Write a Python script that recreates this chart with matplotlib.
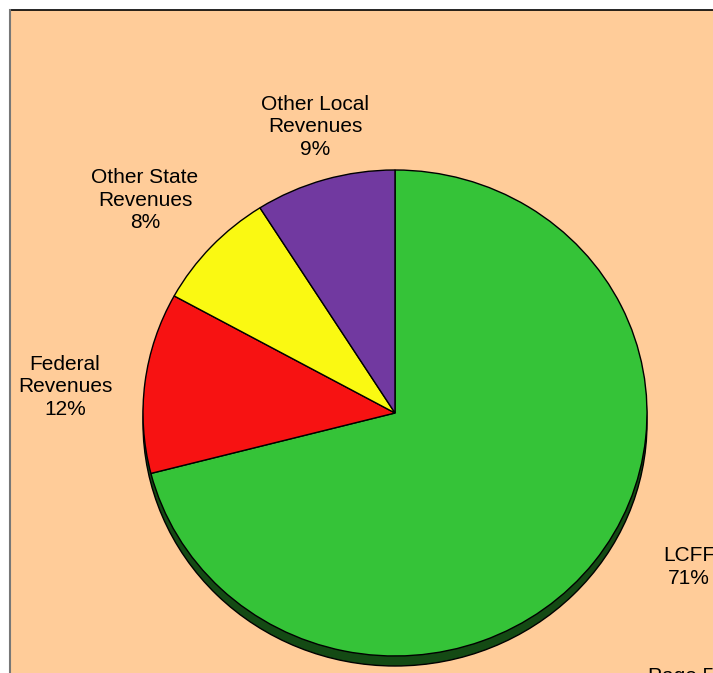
import matplotlib
matplotlib.use("Agg")
import matplotlib.pyplot as plt
from matplotlib.patches import Ellipse, Rectangle
from matplotlib.lines import Line2D

plt.rcParams['font.family'] = ['Liberation Sans', 'DejaVu Sans']

categories = ["LCFF", "Federal\nRevenues", "Other State\nRevenues", "Other Local\nRevenues"]
values = [71, 12, 8, 9]
colors = ["#35C338", "#F71212", "#FAF912", "#7139A0"]
label_pos = [(689, 567), (65, 387), (145, 200), (315, 127)]  # pixel positions of labels

W, H = 713, 673
fig = plt.figure(figsize=(W / 100, H / 100), dpi=100)
fig.patch.set_facecolor("white")

# peach panel
fig.patches.append(Rectangle((10 / W, 0), 1 - 10 / W, 1 - 9.5 / H, transform=fig.transFigure,
                             facecolor="#FFCC99", edgecolor="none", zorder=-2))
fig.lines.append(Line2D([10 / W, 1], [1 - 9.5 / H, 1 - 9.5 / H], transform=fig.transFigure,
                        color="black", lw=1.2, zorder=-1))
fig.lines.append(Line2D([10.3 / W, 10.3 / W], [0, 1 - 9.5 / H], transform=fig.transFigure,
                        color="#777777", lw=1.5, zorder=-1))

cx, cy = 395, 413
rx, ry = 252, 243
ax = fig.add_axes([0, 0, 1, 1])
ax.set_zorder(2)
ax.patch.set_visible(False)

# 3D depth shadow
depth = 10 / ry
ax.add_patch(Ellipse((0, -depth), 2, 2, facecolor="#144A14", edgecolor="black", lw=1.0, zorder=1))

wedges, _ = ax.pie(values, colors=colors, startangle=90, counterclock=False, radius=1,
                   wedgeprops=dict(edgecolor="black", linewidth=1.0), frame=True)
for w in wedges:
    w.set_zorder(2)
ax.set_xlim(-cx / rx, (W - cx) / rx)
ax.set_ylim(-(H - cy) / ry, cy / ry)
ax.set_aspect("auto")
ax.axis("off")

for cat, v, (px, py) in zip(categories, values, label_pos):
    fig.text(px / W, 1 - py / H, f"{cat}\n{v}%", ha="center", va="center",
             fontsize=15, color="black", linespacing=1.22, zorder=3)

fig.text(648 / W, 1 - 667 / H, "Page 5", ha="left", va="top", fontsize=15, color="black", zorder=3)

fig.savefig("out.png", dpi=100, facecolor="white")
